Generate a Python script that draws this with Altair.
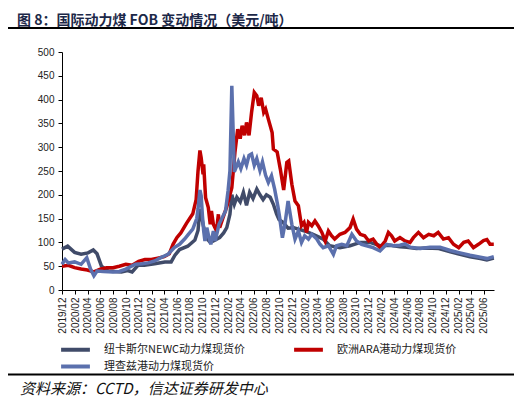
import altair as alt
import pandas as pd

TITLE = "图 8：国际动力煤 FOB 变动情况（美元/吨）"
SOURCE = "资料来源：CCTD，信达证券研发中心"
SERIES = ["纽卡斯尔NEWC动力煤现货价", "欧洲ARA港动力煤现货价", "理查兹港动力煤现货价"]
COLORS = ["#404B69", "#C00000", "#5B70AD"]
START = pd.Timestamp("2019-12-01")
Y_TICKS = [0, 50, 100, 150, 200, 250, 300, 350, 400, 450, 500]

# months elapsed since 2019/12 and price (USD/t)
NEWC_M = [0.0, 0.9, 2.0, 3.0, 4.1, 4.9, 5.5, 6.2, 7.2, 9.3, 10.3, 11.0, 11.9, 12.9, 14.5,
          16.1, 17.1, 17.7, 18.4, 19.7, 20.8, 21.3, 21.6, 21.8, 22.1, 22.6, 23.2, 23.7, 24.7, 25.3,
          25.8, 26.3, 26.6, 27.0, 27.4, 27.9, 28.4, 28.9, 29.4, 29.9, 30.5, 31.0, 31.5, 32.0, 32.6,
          33.1, 33.6, 34.0, 34.6, 35.4, 36.2, 37.0, 38.0, 39.3, 40.9, 41.9, 43.5, 45.1, 46.7, 48.2,
          49.8, 51.4, 52.9, 54.0, 55.5, 57.0, 59.0, 60.8, 62.3, 63.9, 65.5, 66.5, 67.6]
NEWC_V = [86, 92, 79, 75, 78, 84, 76, 50, 40, 38, 41, 38, 52, 52, 55,
          59, 59, 73, 85, 92, 105, 125, 170, 160, 138, 110, 100, 103, 110, 120,
          131, 159, 200, 180, 195, 185, 205, 178, 205, 192, 212, 200, 190, 200, 195,
          180, 160, 148, 142, 130, 131, 128, 124, 117, 107, 93, 89, 93, 100, 100,
          93, 94, 91, 90, 87, 88, 87, 80, 75, 70, 66, 63, 67]

ARA_M = [0.0, 1.0, 2.0, 3.0, 4.0, 5.0, 6.0, 7.0, 8.0, 9.0, 10.0, 11.0, 12.0, 13.0, 14.0,
         15.0, 16.0, 16.8, 17.4, 18.0, 18.6, 19.5, 20.5, 21.0, 21.3, 21.6, 21.8, 22.1, 22.2, 22.5,
         22.9, 23.2, 23.4, 23.7, 24.2, 24.5, 24.7, 25.2, 25.8, 26.2, 26.6, 27.1, 27.5, 27.9, 28.2,
         28.6, 28.9, 29.3, 29.7, 30.1, 30.5, 30.8, 31.2, 31.6, 31.9, 32.3, 32.9, 33.1, 33.7, 34.2,
         34.7, 35.2, 35.5, 36.0, 36.5, 37.0, 37.5, 37.9, 38.3, 38.6, 39.1, 39.6, 40.1, 40.7, 41.2,
         41.7, 42.2, 42.7, 43.5, 44.3, 45.1, 45.6, 46.1, 46.7, 47.4, 48.0, 48.7, 49.3, 49.8, 50.6,
         51.1, 51.6, 52.1, 52.9, 53.7, 54.5, 55.0, 55.8, 56.6, 57.4, 58.2, 58.9, 59.7, 60.5, 61.3,
         62.1, 62.9, 63.6, 64.4, 65.2, 66.0, 66.5, 67.0, 67.6]
ARA_V = [50, 52, 47, 44, 42, 38, 44, 47, 47, 50, 54, 52, 60, 64, 64,
         67, 70, 76, 96, 110, 120, 140, 160, 190, 250, 293, 278, 243, 264, 194,
         173, 138, 166, 138, 124, 159, 131, 152, 175, 195, 215, 290, 338, 318, 345,
         325, 352, 325, 373, 415, 408, 387, 404, 373, 380, 359, 331, 296, 290, 254,
         210, 268, 271, 222, 187, 177, 135, 142, 121, 142, 135, 145, 135, 121, 103,
         124, 114, 107, 117, 121, 131, 149, 128, 117, 114, 103, 107, 96, 89, 103,
         121, 114, 103, 110, 103, 100, 110, 121, 110, 117, 114, 121, 107, 110, 96,
         89, 100, 103, 89, 96, 104, 106, 96, 96]

RB_M = [0.0, 0.5, 1.0, 2.0, 3.0, 3.9, 4.5, 5.0, 5.5, 6.5, 8.0, 9.0, 10.0, 11.5, 12.5,
        13.5, 14.5, 15.5, 16.6, 17.6, 18.4, 19.2, 19.8, 20.5, 21.1, 21.3, 21.6, 21.8, 22.0, 22.2,
        22.4, 22.7, 23.0, 23.3, 23.7, 24.0, 24.6, 25.1, 25.6, 26.0, 26.3, 26.6, 27.0, 27.6, 28.0,
        28.5, 28.9, 29.3, 29.7, 30.1, 30.5, 31.0, 31.4, 31.9, 32.3, 32.8, 33.3, 33.8, 34.1, 34.5,
        34.9, 35.4, 36.0, 36.5, 37.0, 37.5, 38.0, 38.6, 39.1, 39.9, 40.4, 40.9, 41.7, 42.5, 43.0,
        43.8, 44.6, 45.4, 46.1, 46.9, 47.7, 48.7, 49.8, 50.8, 51.9, 52.9, 53.7, 54.5, 56.1, 57.6,
        59.2, 60.8, 62.3, 63.9, 65.5, 66.5, 67.6]
RB_V = [54, 64, 57, 59, 54, 68, 44, 30, 40, 39, 38, 39, 44, 54, 55,
        57, 61, 68, 75, 89, 96, 107, 117, 128, 150, 170, 210, 198, 156, 124,
        103, 131, 110, 96, 124, 103, 138, 152, 166, 208, 250, 429, 248, 269, 255,
        276, 262, 283, 286, 262, 276, 251, 269, 241, 226, 240, 212, 177, 152, 110,
        138, 187, 138, 107, 124, 100, 114, 107, 117, 107, 96, 89, 93, 75, 93,
        96, 93, 117, 103, 96, 93, 89, 82, 96, 93, 94, 97, 90, 87, 90,
        90, 83, 78, 73, 69, 66, 70]


def to_frame(name, months, values):
    assert len(months) == len(values)
    dates = [(START + pd.Timedelta(days=m * 30.4375)).strftime("%Y-%m-%d") for m in months]
    return pd.DataFrame({"date": dates, "price": values, "series": name})


df = pd.concat([
    to_frame(SERIES[0], NEWC_M, NEWC_V),
    to_frame(SERIES[1], ARA_M, ARA_V),
    to_frame(SERIES[2], RB_M, RB_V),
], ignore_index=True)

# bi-monthly tick positions 2019/12 .. 2025/06
x_ticks = []
y, mth = 2019, 12
while (y, mth) <= (2025, 6):
    x_ticks.append(alt.DateTime(year=y, month=mth, date=1, utc=True))
    mth += 2
    if mth > 12:
        mth -= 12
        y += 1

W, H = 432, 238
FONT = "Liberation Sans"
CJK = "Noto Sans CJK SC"

x_enc = alt.X(
    "date:T",
    scale=alt.Scale(type="utc", domain=[alt.DateTime(year=2019, month=12, date=1, utc=True),
                                        alt.DateTime(year=2025, month=7, date=20, utc=True)]),
    axis=alt.Axis(values=x_ticks, format="%Y/%m", labelAngle=270, labelFont=FONT,
                  labelFontSize=10, labelColor="#222", labelOverlap=False, labelPadding=3,
                  tickSize=4, tickColor="#000", domainColor="#000", grid=False, title=None),
)
y_enc = alt.Y(
    "price:Q",
    scale=alt.Scale(domain=[0, 500], nice=False),
    axis=alt.Axis(values=Y_TICKS, labelFont=FONT, labelFontSize=10, labelColor="#222",
                  tickSize=4, tickColor="#000", domainColor="#000", grid=False, title=None,
                  labelPadding=4),
)
color_enc = alt.Color(
    "series:N",
    scale=alt.Scale(domain=SERIES, range=COLORS),
    legend=alt.Legend(title=None, orient="none", legendX=-3, legendY=291, columns=2,
                      direction="horizontal", columnPadding=40, rowPadding=0,
                      symbolType="M-3.2,0H3.2", symbolSize=81, symbolStrokeWidth=4,
                      symbolOffset=10, labelOffset=22,
                      labelFont=CJK, labelFontSize=11, labelColor="#222"),
)

base = alt.Chart(df).mark_line(strokeWidth=3.5).encode(x=x_enc, y=y_enc, color=color_enc)
lines = [base.transform_filter(alt.datum.series == s) for s in SERIES]

one = alt.Data(values=[{}])
top_rule = alt.Chart(one).mark_rule(color="#000", strokeWidth=2).encode(
    x=alt.value(-54), x2=alt.value(455), y=alt.value(-24))
bottom_rule = alt.Chart(one).mark_rule(color="#000", strokeWidth=2).encode(
    x=alt.value(-54), x2=alt.value(455), y=alt.value(322.5))
title = alt.Chart(one).mark_text(text=TITLE, align="left", baseline="alphabetic", font=CJK,
                                 fontSize=14, fontWeight="bold", color="#1C2848").encode(
    x=alt.value(-45), y=alt.value(-27.5))
source = alt.Chart(one).mark_text(text=SOURCE, align="left", baseline="alphabetic", font=CJK,
                                  fontSize=15, fontStyle="italic", color="#111").encode(
    x=alt.value(-42), y=alt.value(342))

chart = alt.layer(*lines, top_rule, bottom_rule, title, source).properties(
    width=W, height=H,
    padding={"left": 54, "top": 44, "right": 20, "bottom": 110},
    autosize=alt.AutoSizeParams(type="none"),
    background="white",
).configure_view(strokeWidth=0)

chart.save("out.html", embed_options={"renderer": "svg", "actions": False})
